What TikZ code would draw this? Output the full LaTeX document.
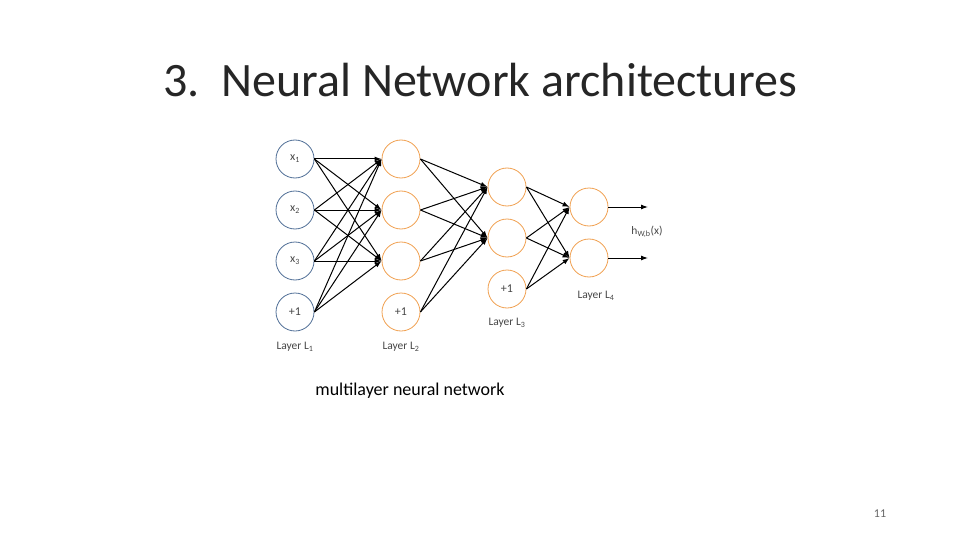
\documentclass[tikz,border=0pt]{standalone}
\usepackage{fontspec}
\setmainfont{Carlito}
\usetikzlibrary{arrows.meta}
\definecolor{bl}{RGB}{80,110,150}
\definecolor{og}{RGB}{240,160,80}
\definecolor{tx}{RGB}{70,70,70}
\begin{document}
\begin{tikzpicture}[x=1pt,y=-1pt,
 n1/.style={circle,draw=bl,line width=0.8pt,minimum size=38pt,inner sep=0pt,font=\fontsize{12}{12}\selectfont,text=tx},
 n2/.style={n1,draw=og},
 lab/.style={font=\fontsize{11.5}{11.5}\selectfont,text=tx},
 ed/.style={-{Latex[length=7pt,width=5pt]},line width=1pt}]
\useasboundingbox (0,0) rectangle (960,540);
\node[font=\fontsize{48}{48}\selectfont,text=black!85] (title) at (480,80) {3.\ \ Neural Network architectures};
\foreach \i/\y/\t in {1/159/{x\textsubscript{1}},2/210/{x\textsubscript{2}},3/261/{x\textsubscript{3}},4/312/{+1}}
  \node[n1] (a\i) at (295,\y) {\t};
\foreach \i/\y/\t in {1/159/{},2/210/{},3/261/{},4/312/{+1}}
  \node[n2] (b\i) at (401,\y) {\t};
\foreach \i/\y/\t in {1/187/{},2/238/{},3/289/{+1}}
  \node[n2] (c\i) at (507,\y) {\t};
\foreach \i/\y in {1/207,2/258}
  \node[n2] (d\i) at (589,\y) {};
\foreach \i in {1,...,4} \foreach \j in {1,2,3} \draw[ed] (a\i.east) -- (b\j.west);
\foreach \i in {1,...,4} \foreach \j in {1,2} \draw[ed] (b\i.east) -- (c\j.west);
\foreach \i in {1,...,3} \foreach \j in {1,2} \draw[ed] (c\i.east) -- (d\j.west);
\coordinate (o1) at (648,207);
\coordinate (o2) at (648,258);
\draw[ed] (d1.east) -- (o1);
\draw[ed] (d2.east) -- (o2);
\node[lab] (h) at (647,232) {h\textsubscript{W,b}(x)};
\node[lab] (l1) at (295,347) {Layer L\textsubscript{1}};
\node[lab] (l2) at (401,347) {Layer L\textsubscript{2}};
\node[lab] (l3) at (507,323) {Layer L\textsubscript{3}};
\node[lab] (l4) at (596,296) {Layer L\textsubscript{4}};
\node[font=\fontsize{18}{18}\selectfont] (cap) at (410,391) {multilayer neural network};
\node[font=\fontsize{12}{12}\selectfont,text=black!60] (pg) at (880,514) {11};
\end{tikzpicture}
\end{document}
